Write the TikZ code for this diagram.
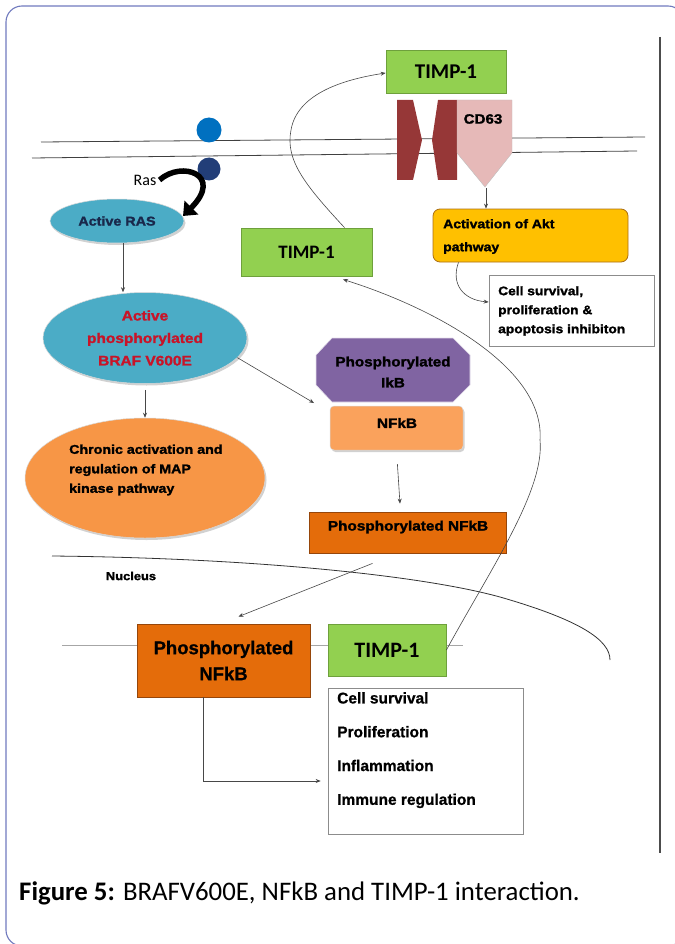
\documentclass[tikz,border=0pt]{standalone}
\usepackage{fontspec}
\setmainfont{Liberation Sans}
\newfontfamily\wfont[FakeStretch=1.12,FakeBold=1.6]{Liberation Sans}
\newfontfamily\hfont[FakeBold=0.8]{Liberation Sans}
\newfontfamily\cfont{Carlito}
\usetikzlibrary{arrows.meta,shapes.geometric,calc,shadows}
\definecolor{framecol}{RGB}{112,122,190}
\definecolor{timpgreen}{RGB}{146,208,80}
\definecolor{greenedge}{RGB}{110,160,60}
\definecolor{darkor}{RGB}{228,108,10}
\definecolor{darkoredge}{RGB}{150,70,10}
\definecolor{lightor}{RGB}{247,150,70}
\definecolor{nfkbor}{RGB}{250,162,92}
\definecolor{aktyel}{RGB}{255,192,0}
\definecolor{aktedge}{RGB}{170,110,20}
\definecolor{bellblue}{RGB}{75,172,198}
\definecolor{ikbpurple}{RGB}{128,100,162}
\definecolor{cdred}{RGB}{150,55,55}
\definecolor{cdpink}{RGB}{230,185,184}
\definecolor{lightblue}{RGB}{0,112,192}
\definecolor{darkblue}{RGB}{34,62,120}
\definecolor{braftxt}{RGB}{200,20,40}
\definecolor{navytxt}{RGB}{25,40,75}
\begin{document}
\begin{tikzpicture}[x=1pt,y=-1pt,
  conn/.style={draw=black!72, line width=0.6pt, -{Stealth[length=5pt,width=4pt]}},
  gbox/.style={rectangle, draw=greenedge, fill=timpgreen, line width=0.8pt, inner sep=0pt},
  obox/.style={rectangle, draw=darkoredge, fill=darkor, line width=0.8pt, inner sep=0pt},
  wbox/.style={rectangle, draw=black!45, fill=white, line width=0.7pt, inner sep=0pt},
  softshadow/.style={drop shadow={shadow xshift=1.5pt, shadow yshift=-2pt, opacity=0.3, fill=black!60}},
  bell/.style={ellipse, fill=bellblue, draw=black!15, line width=0.5pt, inner sep=0pt, softshadow},
  wtxt/.style={inner sep=0pt, font=\wfont\bfseries\fontsize{13}{16}\selectfont},
  ttxt/.style={font=\cfont\bfseries\fontsize{#1}{#1}\selectfont},
]
\useasboundingbox (0,0) rectangle (674,944);
% frame
\draw[framecol, line width=1.1pt, rounded corners=16pt] (6,6) rectangle (684,946);
\draw[black!70, line width=1.6pt] (660,37) -- (660,853);
% membrane
\draw[black!75, line width=0.8pt] (41,142) -- (645,137);
\draw[black!75, line width=0.8pt] (32,158) -- (637,151);
% nucleus envelope
\draw[black!80, line width=0.8pt] (52,556) .. controls (250,558) and (420,575) .. (500,597) .. controls (580,620) and (610,640) .. (610,660);
\draw[black!35, line width=0.8pt] (62,645) -- (463,645);
% circles
\fill[lightblue] (209,130) circle (12.5);
\fill[darkblue] (209,169) circle (11.5);
% CD63 complex
\fill[cdred] (397,100) -- (413,100) -- (422,140) -- (413,180) -- (397,180) -- cycle;
\fill[cdred] (438,100) -- (457,100) -- (457,180) -- (438,180) -- (432,140) -- cycle;
\filldraw[fill=cdpink, draw=black!25, line width=0.4pt] (457,100) -- (512,100) -- (512,153) -- (485,187) -- (457,153) -- cycle;
\node[wtxt, font=\wfont\bfseries\fontsize{13.5}{16}\selectfont] (cd63) at (483,119) {CD63};
\coordinate (cdtip) at (486,188);
% TIMP-1 boxes
\node[gbox, minimum width=120, minimum height=43, ttxt=21] (timpt) at (446,71.5) {TIMP-1};
\node[gbox, minimum width=131, minimum height=48, ttxt=19] (timpm) at (306.5,252) {TIMP-1};
\node[gbox, minimum width=118, minimum height=52, ttxt=22] (timpb) at (387,650) {TIMP-1};
% Akt
\node[rectangle, rounded corners=7pt, draw=aktedge, fill=aktyel, line width=0.8pt, minimum width=195, minimum height=53] (akt) at (530.5,235.5) {};
\node[wtxt, anchor=west, align=left, font=\wfont\bfseries\fontsize{12.5}{23}\selectfont] (akttxt) at (443,236.5) {Activation of Akt\\pathway};
\node[wbox, minimum width=165, minimum height=71] (cell) at (571.5,310.5) {};
\node[wtxt, anchor=west, align=left, font=\wfont\bfseries\fontsize{12.3}{19}\selectfont] (celltxt) at (498,311) {Cell survival,\\proliferation \&\\apoptosis inhibiton};
% Ras
\node[font=\cfont\fontsize{16}{16}\selectfont, inner sep=0pt] (raslbl) at (145,180) {Ras};
\node[bell, minimum width=134, minimum height=44, text=navytxt, font=\wfont\bfseries\fontsize{12.8}{15}\selectfont] (ras) at (117,221) {Active RAS};
\coordinate (rastip) at (183,216);
\draw[line width=5.5pt, -{Triangle[length=12pt,width=19pt]}] ([xshift=3pt]raslbl.east) .. controls (182,160) and (224,175) .. (rastip);
% BRAF
\node[bell, minimum width=204, minimum height=91, text=braftxt, align=center, font=\wfont\bfseries\fontsize{13.8}{22.5}\selectfont] (braf) at (145,338) {Active\\phosphorylated\\BRAF V600E};
% chronic
\node[ellipse, fill=lightor, draw=black!15, line width=0.5pt, minimum width=240, minimum height=120, inner sep=0pt, softshadow] (chronic) at (145,478) {};
\node[wtxt, anchor=west, align=left, font=\wfont\bfseries\fontsize{12.7}{19.5}\selectfont] (chrtxt) at (69,470) {Chronic activation and\\regulation of MAP\\kinase pathway};
% IkB / NFkB
\filldraw[fill=ikbpurple, draw=white!80!ikbpurple, line width=0.6pt] (332,338) -- (453,338) -- (470,355) -- (470,385) -- (453,402) -- (332,402) -- (316,385) -- (316,355) -- cycle;
\node[align=center, inner sep=0pt, font=\wfont\bfseries\fontsize{13.6}{21}\selectfont, minimum width=154, minimum height=64] (ikb) at (393,372) {Phosphorylated\\IkB};
\node[rectangle, rounded corners=4pt, fill=nfkbor, draw=black!15, line width=0.5pt, minimum width=133, minimum height=44, softshadow] (nfkb) at (396.5,428) {};
\node[wtxt, font=\wfont\bfseries\fontsize{13.7}{16}\selectfont] (nfkbtxt) at (397,423) {NFkB};
\coordinate (ikbin) at (314,403);
% phosphorylated NFkB (cytoplasm)
\node[obox, minimum width=197, minimum height=41] (pnfkb) at (407.5,532.5) {};
\node[wtxt, font=\wfont\bfseries\fontsize{13.7}{16}\selectfont] (pnfkbtxt) at (408,527) {Phosphorylated NFkB};
% nucleus
\node[font=\wfont\bfseries\fontsize{11.5}{14}\selectfont, inner sep=0pt] (nucleus) at (131,576) {Nucleus};
\node[obox, minimum width=173, minimum height=73, align=center, font=\hfont\bfseries\fontsize{18.5}{26}\selectfont] (nbox) at (223.5,660.5) {Phosphorylated\\NFkB};
\node[wbox, minimum width=195, minimum height=146] (list) at (425.5,761) {};
\node[anchor=north west, align=left, inner sep=0pt, font=\hfont\bfseries\fontsize{15.5}{33.8}\selectfont] (listtxt) at (337,692) {Cell survival\\Proliferation\\Inflammation\\Immune regulation};
% connectors
\draw[conn] ([xshift=6pt]ras.south) -- ([xshift=6pt]ras.south |- braf.north);
\draw[conn, shorten <=6pt] (braf.south) -- (chronic.north);
\draw[conn] (braf.-12) -- (ikbin);
\draw[conn, shorten <=14pt, shorten >=8pt] (nfkb.south) -- ([xshift=-7pt]pnfkb.south |- pnfkb.north);
\draw[conn] ([xshift=-35pt,yshift=-10pt]pnfkb.south) -- ([xshift=15pt,yshift=7pt]nbox.north);
\draw[conn] ([xshift=-20pt]nbox.south) |- ([xshift=-7pt,yshift=-20pt]list.west);
\draw[conn] (cdtip) -- (cdtip |- akt.north);
\draw[conn] ([xshift=-72pt]akt.south) .. controls +(-8,22) and +(-25,-2) .. ([yshift=8.5pt]cell.west);
\draw[conn] ([xshift=38pt]timpm.north) .. controls (305,185) and (285,160) .. (291,130) .. controls (297,95) and (340,80) .. ([yshift=-1.5pt]timpt.west);
\draw[conn] (timpb.east) .. controls (490,570) and (545,490) .. (540,440) .. controls (545,370) and (440,310) .. ([xshift=36.5pt,yshift=-3pt]timpm.south);
% caption
\node[anchor=west, inner sep=0pt, font=\cfont\fontsize{26.8}{30}\selectfont] (caption) at (19,893) {\textbf{Figure 5:} BRAFV600E, NFkB and TIMP-1 interaction.};
\end{tikzpicture}
\end{document}
